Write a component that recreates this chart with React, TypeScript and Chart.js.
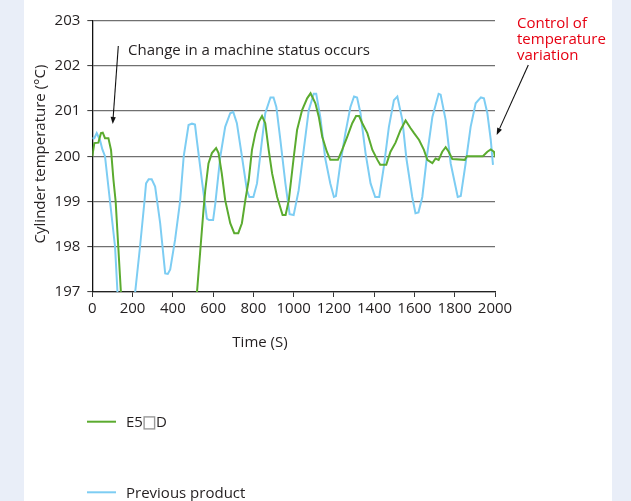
import { useEffect, useRef } from 'react';
import { Chart, registerables } from 'chart.js';

Chart.register(...registerables);

const FONT = "'Open Sans', 'Noto Sans', sans-serif";

const xTickValues = [0, 200, 400, 600, 800, 1000, 1200, 1400, 1600, 1800, 2000];
const yTickValues = [197, 198, 199, 200, 201, 202, 203];

const seriesLabels = ['E5\u25A1D', 'Previous product'];
const seriesColors = ['#5bab2f', '#7dcdf3'];

const e5Time = [
  0, 10, 30, 43, 52, 63, 80, 93, 105, 116, 129, 142, 160, 330, 500, 520, 536, 552, 561, 577, 594, 615, 627, 643,
  660, 685, 705, 725, 743, 760, 777, 793, 810, 827, 843, 859, 876, 893, 918, 945, 960, 976, 1001, 1017, 1042,
  1067, 1084, 1108, 1125, 1142, 1165, 1182, 1220, 1241, 1266, 1291, 1310, 1325, 1341, 1366, 1391, 1416, 1430,
  1460, 1481, 1506, 1531, 1556, 1581, 1598, 1623, 1647, 1664, 1689, 1705, 1720, 1738, 1755, 1770, 1788, 1850,
  1860, 1940, 1962, 1979, 1995, 2000,
];
const e5Temp = [
  200.0, 200.29, 200.3, 200.51, 200.52, 200.4, 200.4, 200.14, 199.48, 199.0, 198.0, 197.0, 195.6, 194.6, 195.6,
  197.0, 197.9, 198.8, 199.25, 199.84, 200.07, 200.18, 200.07, 199.62, 199.03, 198.52, 198.3, 198.3, 198.52,
  199.03, 199.48, 200.14, 200.51, 200.76, 200.89, 200.73, 200.14, 199.62, 199.1, 198.7, 198.7, 199.03, 200.0,
  200.58, 201.02, 201.28, 201.39, 201.17, 200.87, 200.43, 200.1, 199.92, 199.92, 200.14, 200.43, 200.73, 200.89,
  200.89, 200.73, 200.51, 200.14, 199.92, 199.81, 199.81, 200.1, 200.3, 200.58, 200.79, 200.62, 200.51, 200.36,
  200.14, 199.92, 199.85, 199.95, 199.92, 200.1, 200.2, 200.1, 199.94, 199.92, 200.0, 200.0, 200.1, 200.15,
  200.1, 199.98,
];

const prevTime = [
  0, 10, 22, 38, 50, 63, 88, 113, 125, 150, 190, 213, 237, 259, 267, 280, 295, 312, 337, 362, 375, 387, 411, 436,
  454, 478, 495, 510, 519, 544, 569, 580, 600, 611, 636, 660, 685, 700, 718, 743, 768, 780, 800, 818, 843, 859,
  885, 900, 914, 934, 959, 980, 1000, 1025, 1050, 1075, 1100, 1112, 1133, 1157, 1182, 1200, 1210, 1232, 1257,
  1282, 1300, 1315, 1332, 1357, 1382, 1405, 1425, 1448, 1473, 1498, 1515, 1540, 1560, 1589, 1605, 1620, 1639,
  1664, 1689, 1720, 1730, 1755, 1780, 1815, 1830, 1854, 1879, 1904, 1930, 1945, 1962, 1979, 1990,
];
const prevTemp = [
  200.4, 200.4, 200.51, 200.36, 200.15, 200.0, 199.0, 198.0, 197.0, 195.8, 195.8, 197.0, 198.0, 199.0, 199.4,
  199.49, 199.49, 199.33, 198.52, 197.41, 197.4, 197.5, 198.15, 199.0, 200.0, 200.69, 200.72, 200.7, 200.36,
  199.48, 198.62, 198.59, 198.59, 198.96, 200.0, 200.65, 200.95, 200.98, 200.73, 200.0, 199.25, 199.1, 199.1,
  199.4, 200.36, 200.95, 201.3, 201.3, 201.09, 200.36, 199.4, 198.72, 198.7, 199.25, 200.14, 201.02, 201.38,
  201.38, 200.85, 199.95, 199.4, 199.1, 199.12, 199.84, 200.51, 201.09, 201.32, 201.3, 200.95, 200.07, 199.4,
  199.1, 199.1, 199.77, 200.65, 201.24, 201.32, 200.8, 199.95, 199.1, 198.74, 198.76, 199.1, 200.07, 200.87,
  201.38, 201.36, 200.8, 199.84, 199.1, 199.12, 199.84, 200.65, 201.17, 201.3, 201.28, 200.95, 200.36, 199.81,
];

const yAxisTitle = 'Cylinder temperature (\u00B0C)';
const xAxisTitle = 'Time (S)';
const noteMachine = 'Change in a machine status occurs';
const noteControl = ['Control of', 'temperature', 'variation'];

const W = 631;
const H = 501;
const TEXT = '#231f20';

function drawArrow(ctx: CanvasRenderingContext2D, x1: number, y1: number, x2: number, y2: number) {
  const ang = Math.atan2(y2 - y1, x2 - x1);
  const head = 7;
  const hw = 2.6;
  const bx = x2 - head * Math.cos(ang);
  const by = y2 - head * Math.sin(ang);
  ctx.save();
  ctx.strokeStyle = '#111';
  ctx.fillStyle = '#111';
  ctx.lineWidth = 1.1;
  ctx.beginPath();
  ctx.moveTo(x1, y1);
  ctx.lineTo(bx, by);
  ctx.stroke();
  ctx.beginPath();
  ctx.moveTo(x2, y2);
  ctx.lineTo(bx + hw * Math.sin(ang), by - hw * Math.cos(ang));
  ctx.lineTo(bx - hw * Math.sin(ang), by + hw * Math.cos(ang));
  ctx.closePath();
  ctx.fill();
  ctx.restore();
}

// draws a label, rendering the white-square char as a grey outlined box
function drawLabel(ctx: CanvasRenderingContext2D, text: string, x: number, y: number) {
  const parts = text.split('\u25A1');
  let cx = x;
  parts.forEach((p, i) => {
    ctx.fillText(p, cx, y);
    cx += ctx.measureText(p).width;
    if (i < parts.length - 1) {
      ctx.save();
      ctx.strokeStyle = '#9a9a9a';
      ctx.lineWidth = 1.4;
      ctx.strokeRect(cx + 1.2, y - 5.8, 10.5, 12);
      ctx.restore();
      cx += 13;
    }
  });
}

const decorPlugin = {
  id: 'decor',
  afterDraw(chart: any) {
    const ctx: CanvasRenderingContext2D = chart.ctx;
    ctx.save();
    ctx.font = `15px ${FONT}`;
    ctx.fillStyle = TEXT;

    // y axis title
    ctx.save();
    ctx.translate(41, 154);
    ctx.rotate(-Math.PI / 2);
    ctx.textAlign = 'center';
    ctx.textBaseline = 'middle';
    ctx.fillText(yAxisTitle, 0, 0);
    ctx.restore();

    // x axis title
    ctx.textAlign = 'center';
    ctx.textBaseline = 'middle';
    ctx.fillText(xAxisTitle, 260, 343);

    // machine status note
    ctx.textAlign = 'left';
    ctx.textBaseline = 'alphabetic';
    ctx.fillText(noteMachine, 128, 55);
    drawArrow(ctx, 118.3, 46, 112.7, 124);

    // control note (red)
    ctx.fillStyle = '#e60012';
    noteControl.forEach((line, i) => ctx.fillText(line, 517, 27.5 + i * 16));
    drawArrow(ctx, 528.3, 65, 496.7, 135);

    // legend
    const rows = [421.7, 492.3];
    chart.data.datasets.forEach((ds: any, i: number) => {
      const y = rows[i];
      ctx.strokeStyle = ds.borderColor;
      ctx.lineWidth = 2;
      ctx.beginPath();
      ctx.moveTo(87, y);
      ctx.lineTo(116, y);
      ctx.stroke();
      ctx.fillStyle = TEXT;
      ctx.textAlign = 'left';
      ctx.textBaseline = 'middle';
      drawLabel(ctx, ds.label, 126, y + 1);
    });
    ctx.restore();
  },
};

export default function App() {
  const ref = useRef<HTMLCanvasElement | null>(null);

  useEffect(() => {
    if (!ref.current) return;
    Chart.defaults.font.family = FONT;
    const chart = new Chart(ref.current, {
      type: 'line',
      data: {
        datasets: [
          {
            label: seriesLabels[0],
            data: e5Time.map((t, i) => ({ x: t, y: e5Temp[i] })),
            borderColor: seriesColors[0],
            backgroundColor: seriesColors[0],
            borderWidth: 2,
            pointRadius: 0,
            tension: 0,
          },
          {
            label: seriesLabels[1],
            data: prevTime.map((t, i) => ({ x: t, y: prevTemp[i] })),
            borderColor: seriesColors[1],
            backgroundColor: seriesColors[1],
            borderWidth: 2,
            pointRadius: 0,
            tension: 0,
          },
        ],
      },
      options: {
        animation: false,
        responsive: false,
        maintainAspectRatio: false,
        layout: { padding: { top: 20.5, right: W - 495, left: 0, bottom: 0 } },
        plugins: {
          legend: { display: false },
          tooltip: { enabled: false },
        },
        scales: {
          x: {
            type: 'linear',
            min: 0,
            max: 2000,
            afterBuildTicks: (scale: any) => {
              scale.ticks = xTickValues.map((v) => ({ value: v }));
            },
            afterFit: (scale: any) => {
              scale.height = H - 292;
            },
            grid: { drawOnChartArea: false, drawTicks: true, tickLength: 5, tickColor: '#333', tickWidth: 1 },
            border: { display: true, color: '#222', width: 1.3 },
            ticks: {
              color: TEXT,
              font: { size: 15, family: FONT },
              padding: 3,
              maxRotation: 0,
              autoSkip: false,
              callback: (v: any) => String(v),
            },
          },
          y: {
            type: 'linear',
            min: 197,
            max: 203,
            afterBuildTicks: (scale: any) => {
              scale.ticks = yTickValues.map((v) => ({ value: v }));
            },
            afterFit: (scale: any) => {
              scale.width = 92.3;
            },
            grid: { color: '#707070', lineWidth: 1.2, drawTicks: true, tickLength: 5, tickColor: '#333', tickWidth: 1 },
            border: { display: true, color: '#111', width: 1.3 },
            ticks: {
              color: TEXT,
              font: { size: 15, family: FONT },
              padding: 7,
              autoSkip: false,
              callback: (v: any) => String(v),
            },
          },
        },
      },
      plugins: [decorPlugin],
    } as any);
    return () => chart.destroy();
  }, []);

  return (
    <div style={{ position: 'fixed', left: 0, top: 0, width: W, height: H, background: '#e9eef8', overflow: 'hidden' }}>
      <div style={{ position: 'absolute', left: 24, top: 0, width: 588, height: H, background: '#ffffff' }} />
      <canvas ref={ref} width={W} height={H} style={{ position: 'absolute', left: 0, top: 0, width: W, height: H }} />
    </div>
  );
}
